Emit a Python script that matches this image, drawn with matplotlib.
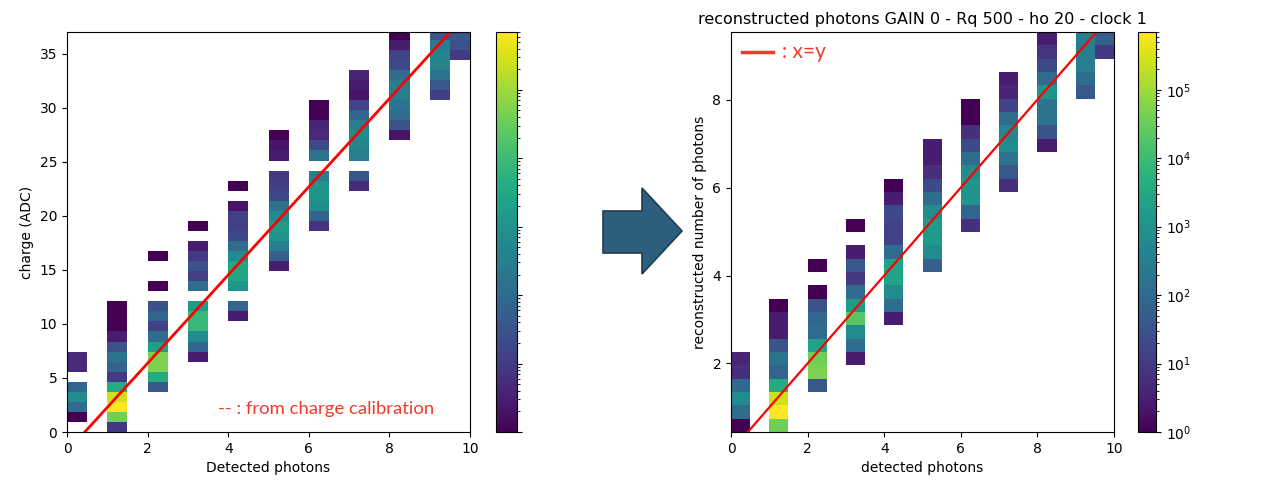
import numpy as np
import matplotlib.pyplot as plt
from matplotlib.colors import LogNorm
from matplotlib.patches import Polygon

# x binning shared by both histograms: 20 bins of half a photon over [0, 10]
x_edges = np.linspace(0, 10, 21)
x_cols = [0, 2, 4, 6, 8, 10, 12, 14, 16, 18, 19]

# charge (ADC) histogram, 40 bins
charge_edges = np.linspace(0, 37.2, 41)
charge_start = [1, 0, 4, 7, 11, 16, 20, 24, 29, 33, 37]
charge_counts = [
    [1, 110, 640, 80, 0, 5, 5],
    [9, 36000, 7e5, 2.7e5, 3700, 10, 74, 166, 29, 3, 1, 1, 1],
    [38, 3700, 48000, 48000, 2000, 110, 14, 74, 29, 0, 1, 0, 0, 1],
    [3, 80, 640, 8200, 8200, 1650, 0, 110, 12, 29, 10, 3, 0, 1],
    [3, 74, 0, 1100, 3000, 3000, 640, 110, 19, 12, 12, 2, 0, 1],
    [3, 57, 280, 1100, 1650, 640, 166, 19, 12, 9, 0, 3, 2, 1],
    [8, 74, 640, 1100, 1100, 280, 0, 166, 19, 5, 4, 1, 1],
    [5, 38, 0, 280, 425, 640, 280, 74, 14, 2, 3, 4],
    [2, 29, 110, 166, 280, 280, 110, 19, 14, 3, 1],
    [12, 38, 166, 425, 425, 280, 38],
    [10, 29, 38],
]

# reconstructed number of photons histogram, 30 bins
reco_edges = np.linspace(0.44, 9.54, 31)
reco_start = [0, 0, 3, 5, 8, 12, 15, 18, 21, 25, 28]
reco_counts = [
    [1, 110, 640, 90, 6, 4],
    [36000, 7e5, 2.7e5, 3700, 74, 166, 29, 3, 3, 1],
    [38, 48000, 36000, 2450, 110, 90, 29, 1, 0, 1],
    [3, 110, 640, 20000, 1650, 110, 10, 38, 3, 0, 1],
    [3, 110, 640, 2450, 2450, 110, 14, 14, 19, 3, 1],
    [57, 640, 1650, 1500, 640, 110, 19, 6, 3, 3],
    [6, 74, 1100, 1100, 640, 110, 19, 6, 1, 1],
    [6, 38, 166, 640, 425, 110, 14, 4, 3],
    [3, 29, 166, 166, 1000, 110, 19, 8, 3],
    [38, 110, 280, 280, 280],
    [10, 57],
]

# charge calibration: charge = gain * photons + offset
calib_gain = 4.08
calib_offset = -1.8

vmin, vmax = 1, 7e5
note_red = '#ef3b2c'


def fill_hist(y_edges, starts, counts):
    h = np.zeros((len(x_edges) - 1, len(y_edges) - 1))
    for col, s, c in zip(x_cols, starts, counts):
        n = min(len(c), h.shape[1] - s)
        h[col, s:s + n] = c[:n]
    return np.ma.masked_equal(h, 0)


fig = plt.figure(figsize=(12.79, 4.83), dpi=100)
W, H = 1279, 483


def px_axes(x0, y0, x1, y1):
    return fig.add_axes([x0 / W, 1 - y1 / H, (x1 - x0) / W, (y1 - y0) / H])


ax1 = px_axes(67, 32, 470, 432)
cax1 = px_axes(496, 32, 517, 432)
ax2 = px_axes(731, 32, 1114, 432)
cax2 = px_axes(1138, 32, 1156, 432)

# left: charge vs detected photons
h1 = fill_hist(charge_edges, charge_start, charge_counts)
m1 = ax1.pcolormesh(x_edges, charge_edges, h1.T, cmap='viridis',
                    norm=LogNorm(vmin=vmin, vmax=vmax))
xs = np.linspace(0, 10, 200)
ax1.plot(xs, calib_gain * xs + calib_offset, color='red', lw=2)
ax1.set_xlim(0, 10)
ax1.set_ylim(0, 37)
ax1.set_xlabel('Detected photons', fontsize=10)
ax1.set_ylabel('charge (ADC)', fontsize=10)
ax1.tick_params(labelsize=10)
ax1.text(0.375, 0.057, '-- : from charge calibration', transform=ax1.transAxes,
         color=note_red, fontsize=13.3, family='Lato', va='center', ha='left')
cb1 = fig.colorbar(m1, cax=cax1)
cb1.ax.tick_params(which='both', labelright=False)

# right: reconstructed vs detected photons
h2 = fill_hist(reco_edges, reco_start, reco_counts)
m2 = ax2.pcolormesh(x_edges, reco_edges, h2.T, cmap='viridis',
                    norm=LogNorm(vmin=vmin, vmax=vmax))
ax2.plot([0, 10], [0, 10], color='red', lw=1.6)
ax2.set_xlim(0, 10)
ax2.set_ylim(0.44, 9.54)
ax2.set_xticks([0, 2, 4, 6, 8, 10])
ax2.set_yticks([2, 4, 6, 8])
ax2.set_xlabel('detected photons', fontsize=10)
ax2.set_ylabel('reconstructed number of photons', fontsize=10)
ax2.set_title('reconstructed photons GAIN 0 - Rq 500 - ho 20 - clock 1', fontsize=11.5)
ax2.tick_params(labelsize=10)
ax2.plot([0.029, 0.110], [0.95, 0.95], transform=ax2.transAxes, color=note_red, lw=2.5)
ax2.text(0.133, 0.95, ': x=y', transform=ax2.transAxes, color=note_red,
         fontsize=15, family='Lato', va='center', ha='left')
cb2 = fig.colorbar(m2, cax=cax2)
cb2.ax.tick_params(labelsize=10)

# arrow between the two panels
arrow_px = [(603, 211), (642, 211), (642, 188), (682, 231),
            (642, 274), (642, 253), (603, 253)]
arrow = Polygon([(x / W, 1 - y / H) for x, y in arrow_px], closed=True,
                transform=fig.transFigure, facecolor='#2d5e7e',
                edgecolor='#1e3d52', lw=1.2)
fig.patches.append(arrow)

fig.savefig('out.png', dpi=100)
